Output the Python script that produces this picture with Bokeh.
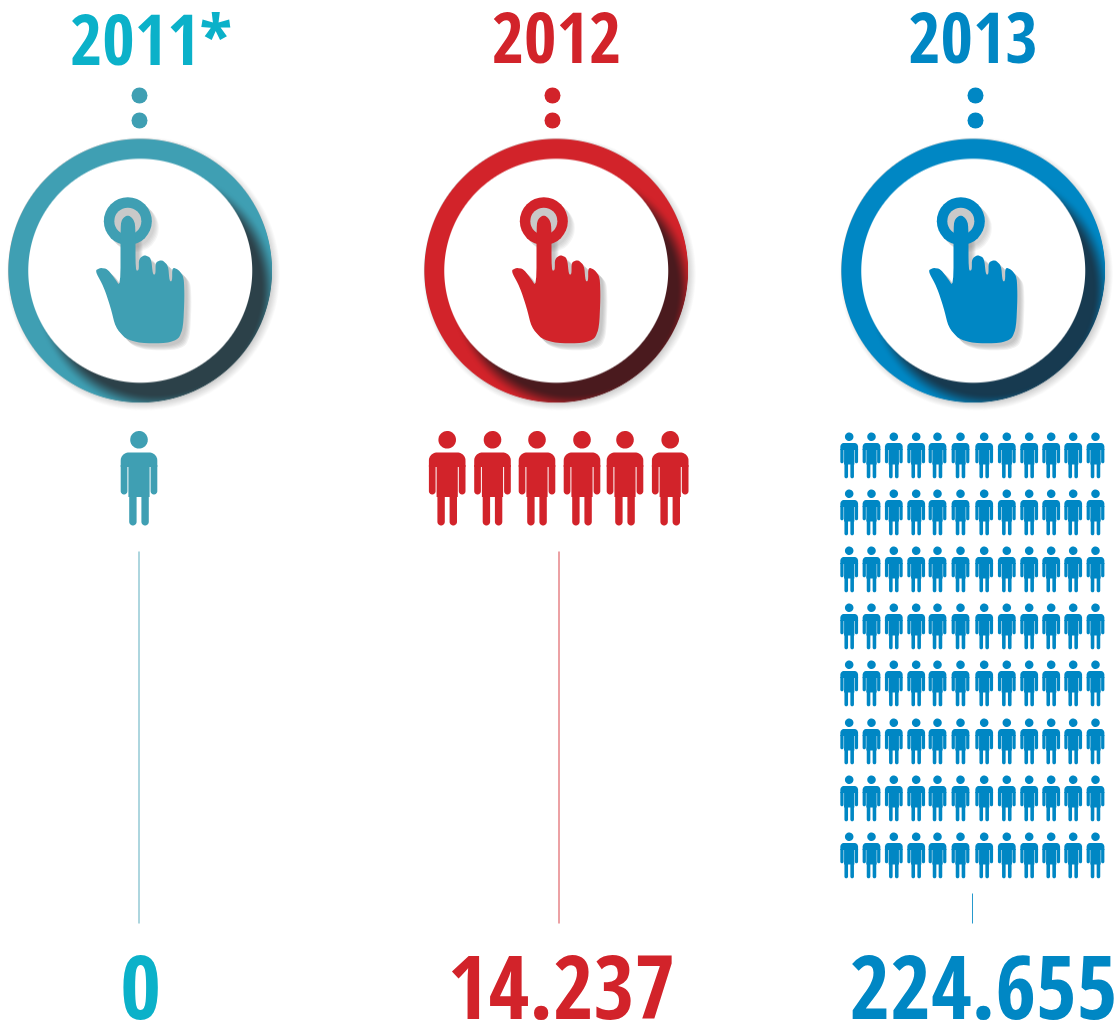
import numpy as np
from bokeh.plotting import figure
from bokeh.core.properties import value
from bokeh.embed import file_html
from bokeh.resources import INLINE

# ---- data
years = ["2011*", "2012", "2013"]
totals = ["0", "14.237", "224.655"]
people_cols = [1, 6, 12]
people_rows = [1, 1, 8]
ring_cx = [139.5, 555.5, 972.5]
ring_colors = ["#3f9fb3", "#d2232a", "#0087c4"]
text_colors = ["#0bb1c9", "#d2232a", "#0087c4"]
dark_colors = ["#2c4149", "#4a1a1e", "#173a50"]
year_cx = [150.5, 556, 972.5]
dot_cx = [139, 552, 975]
line_x = [138.5, 558.5, 972]
line_top = [551, 551, 893]
total_cx = [140, 561, 983]
red_people_x = [446.7, 492, 536.5, 581.5, 624.5, 669.7]
teal_people_x = [138.5]
blue_people_x = [848.7, 871, 893.3, 915.7, 937, 960, 983.7, 1006.3, 1028.7, 1050.7, 1072.7, 1095]
blue_people_top = [432, 489, 546, 603, 660, 718, 775, 832]

W, H = 1117, 1028
p = figure(width=W, height=H, x_range=(0, W), y_range=(H, 0),
           output_backend="svg", toolbar_location=None, min_border=0,
           outline_line_color=None, background_fill_color="white")
p.axis.visible = False
p.grid.visible = False


def arc(cx, cy, r, a0, a1, n=14):
    t = np.radians(np.linspace(a0, a1, n))
    return cx + r * np.cos(t), cy + r * np.sin(t)


def capsule(x0, x1, y0, y1):
    r = (x1 - x0) / 2
    xa, ya = arc((x0 + x1) / 2, y1 - r, r, 0, 180)
    return np.r_[x1, xa, x0], np.r_[y0, ya, y0]


def person(cx, top, s):
    """Pieces of a pictogram, template is 36.5 x 94.5 px scaled by s."""
    parts = []
    hx, hy = arc(0, 8.8, 8.8, 0, 360, 40)
    parts.append((hx, hy))
    ax, ay = arc(-10.3, 29.5, 8, 180, 270)
    bx, by = arc(10.3, 29.5, 8, 270, 360)
    parts.append((np.r_[ax, bx, 18.3, -18.3], np.r_[ay, by, 36, 36]))
    parts.append((np.array([-10.6, 10.6, 10.6, -10.6]), np.array([30, 30, 66, 66])))
    for sign in (-1, 1):
        x0, x1 = sorted((sign * 11.6, sign * 18.3))
        parts.append(capsule(x0, x1, 34, 63.5))
        x0, x1 = sorted((sign * 2.4, sign * 9.8))
        parts.append(capsule(x0, x1, 60, 94.5))
    return [((cx + s * x).tolist(), (top + s * y).tolist()) for x, y in parts]


def add_parts(parts, color):
    p.patches([a for a, _ in parts], [b for _, b in parts],
              fill_color=color, line_color=None)


def chaikin(x, y, n=2):
    for _ in range(n):
        x1, y1 = np.roll(x, -1), np.roll(y, -1)
        x = np.c_[0.8 * x + 0.2 * x1, 0.2 * x + 0.8 * x1].ravel()
        y = np.c_[0.8 * y + 0.2 * y1, 0.2 * y + 0.8 * y1].ravel()
    return x, y


hand_zoom = [(283, 420), (300, 412), (320, 415), (340, 440), (360, 470), (360, 285), (365, 265),
             (382, 253), (398, 265), (405, 285), (405, 420), (415, 420), (415, 385), (433, 373),
             (452, 383), (457, 432), (465, 432), (465, 395), (485, 388), (503, 405), (507, 452),
             (515, 452), (515, 410), (535, 418), (550, 440), (552, 500), (548, 590), (535, 625),
             (500, 638), (420, 638), (375, 625), (345, 590), (330, 530), (310, 470)]
hx, hy = chaikin((np.array([a for a, _ in hand_zoom], float) - 418.5) / 3,
                 (np.array([b for _, b in hand_zoom], float) - 420) / 3)
knob_x, knob_y = (382 - 418.5) / 3, (272 - 420) / 3


def ring_image(cx, cy, base, dark):
    size = 300
    n = size * 2
    g = (np.arange(n) + 0.5) / 2 - size / 2
    X, Y = np.meshgrid(g, g)
    R = np.hypot(X, Y)
    hexrgb = lambda c: np.array([int(c[i:i + 2], 16) for i in (1, 3, 5)], float)
    b, d = hexrgb(base), hexrgb(dark)
    sd = np.hypot(X - 16, Y - 19)
    t = np.clip((122 - sd) / 18, 0, 1)
    t = t * t * (3 - 2 * t)
    col = b[None, None] * (1 - t[..., None]) + d[None, None] * t[..., None]
    so = np.hypot(X - 3, Y - 3)
    oa = np.clip((137 - so) / 9, 0, 1) * 0.3
    ring_a = np.clip(132 - R + 0.5, 0, 1)
    disc_a = np.clip(112 - R + 0.5, 0, 1)
    rgb = col * ring_a[..., None] + (1 - ring_a[..., None]) * 90
    rgb = rgb * (1 - disc_a[..., None]) + 255 * disc_a[..., None]
    a = np.maximum(ring_a, oa)
    img = np.zeros((n, n), dtype=np.uint32)
    v = img.view(dtype=np.uint8).reshape((n, n, 4))
    v[..., :3] = np.clip(rgb, 0, 255).astype(np.uint8)
    v[..., 3] = np.clip(a * 255, 0, 255).astype(np.uint8)
    p.image_rgba(image=[img], x=cx - size / 2, y=cy - size / 2, dw=size, dh=size)


CY = 270
for i in range(3):
    cx = ring_cx[i]
    col = ring_colors[i]
    ring_image(cx, CY, col, dark_colors[i])
    for off in (7, 6, 5, 4, 3):
        p.patch((cx + hx + off).tolist(), (CY + hy + off).tolist(), fill_color="#808080",
                fill_alpha=0.11, line_color=None)
        p.circle(x=[cx + knob_x + off], y=[CY + knob_y + off], radius=24,
                 fill_color="#808080", fill_alpha=0.08, line_color=None)
    p.circle(x=[cx + knob_x], y=[CY + knob_y], radius=24, fill_color=col, line_color=None)
    p.circle(x=[cx + knob_x], y=[CY + knob_y], radius=13.5, fill_color="#c9c9c9", line_color=None)
    p.patch((cx + hx).tolist(), (CY + hy).tolist(), fill_color=col, line_color=None)
    p.circle(x=[dot_cx[i]] * 2, y=[95, 120], radius=8, fill_color=col, line_color=None)
    p.segment(x0=[line_x[i]], x1=[line_x[i]], y0=[line_top[i]], y1=[923],
              line_color=col, line_width=1, line_alpha=0.85)

parts = []
for x in teal_people_x[:people_cols[0]]:
    parts += person(x, 430.5, 1)
add_parts(parts, ring_colors[0])
parts = []
for x in red_people_x[:people_cols[1]]:
    parts += person(x, 430.5, 1)
add_parts(parts, ring_colors[1])
parts = []
for t in blue_people_top[:people_rows[2]]:
    for x in blue_people_x[:people_cols[2]]:
        parts += person(x, t, 0.485)
add_parts(parts, ring_colors[2])

for i in range(3):
    p.text(x=[year_cx[i]], y=[37], text=[years[i]], text_color=text_colors[i],
           text_font=value("Open Sans Condensed"), text_font_style="bold",
           text_font_size="70px", text_align="center", text_baseline="alphabetic")
    p.text(x=[total_cx[i]], y=[986], text=[totals[i]], text_color=text_colors[i],
           text_font=value("Open Sans Condensed"), text_font_style="bold",
           text_font_size="88px", text_align="center", text_baseline="alphabetic")

open("out.html", "w").write(file_html(p, INLINE))
